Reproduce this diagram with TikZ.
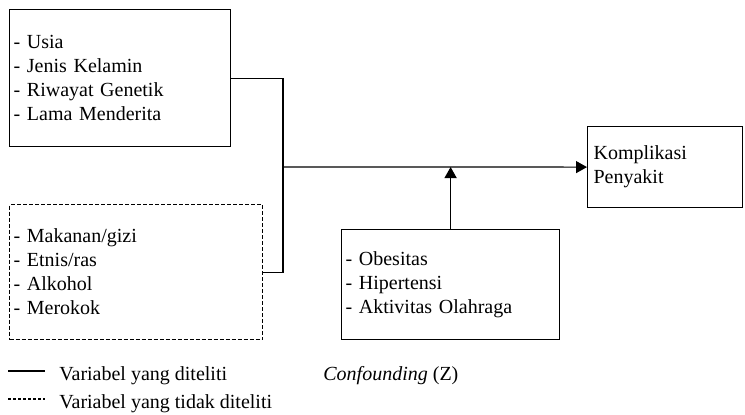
\documentclass[tikz,border=0pt]{standalone}
\usepackage{fontspec}
\setmainfont{Liberation Serif}
\usetikzlibrary{arrows.meta}
\begin{document}
\begin{tikzpicture}[x=0.5pt,y=-0.5pt,font=\fontsize{10}{12}\selectfont]
\useasboundingbox (0,0) rectangle (745,414);
\tikzset{varbox/.style={draw,line width=0.6pt,anchor=north west,align=left,inner xsep=2pt,inner ysep=0pt},
  linkstyle/.style={line width=0.6pt},
  arrowstyle/.style={line width=0.6pt,-{Triangle[length=5.5pt,width=6pt]}}};

\node[varbox,text width=106.5pt,minimum height=68.5pt] (fix) at (9,9)
  {- Usia\\- Jenis Kelamin\\- Riwayat Genetik\\- Lama Menderita};
\node[varbox,dashed,dash pattern=on 2pt off 1pt,text width=122.5pt,minimum height=67.5pt] (out) at (9,204)
  {- Makanan/gizi\\- Etnis/ras\\- Alkohol\\- Merokok};
\node[varbox,text width=105pt,minimum height=55pt] (conf) at (341,229)
  {- Obesitas\\- Hipertensi\\- Aktivitas Olahraga};
\node[varbox,inner xsep=3pt,text width=71.5pt,minimum height=40.5pt] (komp) at (587,126)
  {Komplikasi\\Penyakit};

\coordinate (jn) at (283,167);
\draw[linkstyle] (fix.east) -| (jn) |- (out.east);
\draw[arrowstyle] (jn) -- (komp.west);
\draw[arrowstyle] (conf.north) -- (conf.north |- jn);

% keterangan
\coordinate (s1) at (8,371);
\coordinate (s2) at (45,371);
\coordinate (d1) at (8,399);
\coordinate (d2) at (45,399);
\draw[linkstyle] (s1) -- (s2);
\draw[linkstyle,dash pattern=on 1.5pt off 1pt] (d1) -- (d2);
\node[anchor=base west,inner sep=0pt] (lsol) at (59,380) {Variabel yang diteliti};
\node[anchor=base west,inner sep=0pt] (ldash) at (59,408) {Variabel yang tidak diteliti};
\node[anchor=base west,inner sep=0pt] (lconf) at (323,380) {\textit{Confounding} (Z)};
\end{tikzpicture}
\end{document}
